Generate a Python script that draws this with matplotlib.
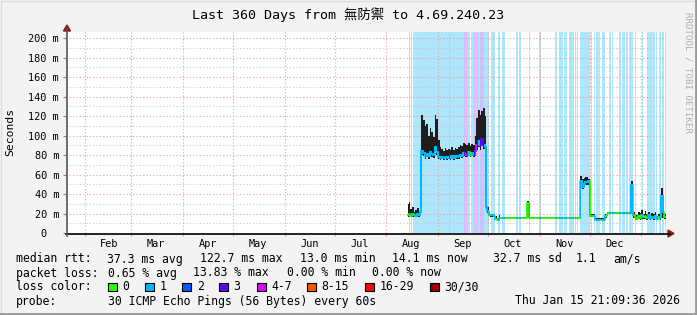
import matplotlib
matplotlib.use("Agg")
import matplotlib.pyplot as plt
import matplotlib.dates as mdates
from matplotlib.patches import Rectangle, Polygon
from datetime import datetime, timedelta

W, H = 697, 315
MONO = "DejaVu Sans Mono"

# time window of the graph
t_start = datetime(2025, 1, 20, 21, 9, 36)
t_end = datetime(2026, 1, 15, 21, 9, 36)
base = datetime(2025, 8, 1)

# step start (days after Aug 1), median rtt and smoke low/high in ms
day = [12.8, 13.5, 14.5, 15.5, 16.5, 17.5, 18.5, 19.5, 20.3,
       21, 22, 23, 24, 25, 26, 27, 28, 29, 30, 31, 32, 33, 34, 35, 36, 37, 38, 39, 40,
       41, 42, 43, 44, 45, 46, 47, 48, 49, 50, 51, 52, 53, 54, 55, 56, 57, 58, 59,
       59.8, 60.5, 61.5, 62.5, 64.5, 65.5, 66.5, 67.5, 68.5, 84.6, 85.8,
       116.4, 117.5, 118.5, 119.5, 121, 122.3, 125.5, 131.5, 132.5, 133.3, 146.6, 148.3,
       149, 150, 151, 152, 153, 154, 155, 156, 157, 158, 159, 160, 161, 162, 163, 164,
       165, 166, 166.8, 167.6]
med = [18, 20, 17, 19, 18, 17, 19, 18, 22,
       84, 82, 79, 81, 79, 83, 81, 80, 88, 83, 78, 77, 78, 77, 78, 77, 78, 77, 79, 77,
       79, 78, 79, 80, 79, 82, 80, 80, 83, 80, 82, 80, 84, 90, 94, 90, 96, 90, 88,
       27, 23, 18.5, 18, 17, 14, 13, 15, 15.5, 31, 15.5,
       53, 47, 50, 52, 53, 17, 13.5, 17, 19, 21, 49, 18,
       16, 14, 17, 15, 18, 16, 17, 15, 18, 15, 16, 15, 17, 14, 16, 15,
       38, 22, 16, 16]
lo = [16, 17, 16, 16, 16, 16, 16, 16, 18,
      80, 79, 76, 78, 76, 80, 78, 77, 84, 80, 76, 75, 76, 75, 76, 75, 76, 75, 76, 75,
      77, 76, 76, 78, 77, 79, 78, 78, 80, 78, 79, 78, 80, 85, 88, 85, 90, 86, 84,
      24, 21, 17, 16, 15, 13, 12, 13, 15, 16, 15,
      48, 45, 47, 49, 49, 16, 13, 15, 17, 20, 45, 15,
      14, 13, 14, 13, 14, 14, 14, 13, 14, 13, 14, 13, 14, 13, 14, 13,
      15, 15, 14, 14]
hi = [30, 32, 25, 27, 22, 24, 26, 22, 37,
      121, 116, 110, 112, 100, 108, 104, 98, 121, 117, 95, 88, 86, 84, 87, 85, 86, 85, 88, 85,
      87, 86, 88, 90, 89, 92, 91, 90, 92, 89, 91, 90, 100, 118, 126, 121, 125, 128, 120,
      30, 27, 21, 20, 19, 17, 15, 18, 16.5, 33, 16.5,
      58, 55, 56, 57, 55, 19, 15, 19, 22, 22, 53, 22,
      20, 18, 22, 21, 24, 20, 23, 19, 22, 18, 21, 19, 22, 17, 20, 18,
      46, 35, 20, 20]

# packet loss bands (days after Aug 1) and their loss class
band_start = [13.8, 15.0, 16.2, 18.0, 20.5, 37.6, 38.2, 46.4, 47.4, 48.8, 50.6, 52.4, 53.4,
              54.4, 55.2, 56.4, 58.4, 62.8, 67.2, 69.4, 70.8, 78.0, 79.8, 85.8, 91.6,
              101.4, 103.4, 106.8, 109.4, 113.0, 114.2, 116.4, 122.6, 124.8, 125.9, 129.5,
              133.4, 135.5, 139.9, 141.3, 144.1, 145.9, 149.3, 153.5, 156.5, 161.9, 163.9,
              165.5, 167.1]
band_end = [14.4, 15.6, 17.6, 20.2, 37.6, 38.2, 46.4, 47.4, 48.8, 50.0, 52.4, 53.4, 54.4,
            55.2, 56.4, 58.4, 61.8, 65.0, 68.4, 70.4, 71.4, 78.8, 81.0, 86.4, 92.6,
            102.6, 105.8, 108.6, 112.4, 113.6, 115.1, 122.3, 123.2, 125.4, 128.4, 131.3,
            134.6, 135.9, 140.7, 143.5, 145.3, 148.3, 149.9, 154.3, 161.3, 162.5, 165.1,
            166.5, 167.7]
band_loss = [1, 1, 1, 1, 1, 3, 1, 3, 4, 1, 1, 3, 4,
             3, 1, 3, 1, 1, 1, 1, 1, 1, 1, 1, 1,
             1, 1, 1, 1, 1, 1, 1, 1, 1, 1, 1,
             1, 1, 1, 1, 1, 1, 1, 1, 1, 1, 1,
             1, 1]

loss_labels = ["0", "1", "2", "3", "4-7", "8-15", "16-29", "30/30"]
loss_colors = ["#26ff00", "#00b8ff", "#0059ff", "#5e00ff", "#dd00ff", "#ff5500", "#ff0000", "#a10000"]
band_colors = {1: "#aee6fb", 3: "#cfc0ff", 4: "#f2b8ff"}

rtt_stats = ["37.3 ms avg", "122.7 ms max", "13.0 ms min", "14.1 ms now", "32.7 ms sd", "1.1", "am/s"]
rtt_x = [107, 199.5, 299.5, 392.5, 493, 576, 613]
loss_stats = ["0.65 % avg", "13.83 % max", "0.00 % min", "0.00 % now"]
loss_x = [107.6, 193.3, 286.7, 372.4]
swatch_x = [108, 145, 182, 219, 257, 307, 365, 430]


fig = plt.figure(figsize=(W / 100, H / 100), dpi=100, facecolor="#f3f3f3")

# overlay in pixel coordinates for the frame and text block
over = fig.add_axes([0, 0, 1, 1], zorder=5)
over.set_xlim(0, W)
over.set_ylim(H, 0)
over.axis("off")
over.patch.set_alpha(0)

left, right, top, bottom = 66, 666, 32, 233
ax = fig.add_axes([left / W, 1 - bottom / H, (right - left) / W, (bottom - top) / H])
ax.set_facecolor("white")
for s in ax.spines.values():
    s.set_visible(False)

x0 = mdates.date2num(base)
xs = [x0 + d for d in day]

# loss bands
for s, e, l in zip(band_start, band_end, band_loss):
    ax.axvspan(x0 + s, x0 + e, color=band_colors[l], lw=0, zorder=1)

# grid
for v in range(10, 210, 20):
    ax.axhline(v, color="#c8c8c8", lw=0.8, ls=(0, (1, 2)), zorder=1.5)
for v in range(20, 210, 20):
    ax.axhline(v, color="#e8a0a0", lw=0.8, ls=(0, (1, 2)), zorder=1.5)
m = datetime(2025, 2, 1)
months = []
while m < t_end:
    months.append(m)
    ax.axvline(mdates.date2num(m), color="#e8a0a0", lw=0.8, ls=(0, (1, 2)), zorder=1.5)
    m = datetime(m.year + (m.month == 12), m.month % 12 + 1, 1)

# smoke
ax.fill_between(xs, lo, hi, step="post", color="#1e1e1e", lw=0, zorder=2)

# median line, green by default and loss coloured inside the bands
ax.step(xs, med, where="post", color=loss_colors[0], lw=1.3, zorder=3)
for s, e, l in zip(band_start, band_end, band_loss):
    ln, = ax.step(xs, med, where="post", color=loss_colors[l], lw=1.5, zorder=3.1)
    ln.set_clip_path(Rectangle((x0 + s, 0), e - s, 1, transform=ax.get_xaxis_transform()))

ax.set_xlim(mdates.date2num(t_start), mdates.date2num(t_end))
ax.set_ylim(0, 206.2)

yt = list(range(0, 201, 20))
ax.set_yticks(yt)
ax.set_yticklabels(["0  "] + ["%d m" % v for v in yt[1:]], fontfamily=MONO, fontsize=7.4)
ax.tick_params(axis="y", length=2.5, width=0.8, color="#888888", pad=2.5)

ax.set_xticks([mdates.date2num(m) for m in months])
ax.set_xticklabels([])
ax.tick_params(axis="x", which="major", length=2.5, width=0.8, color="#e8a0a0")
mid = [mdates.date2num(m + timedelta(days=15)) for m in months if m + timedelta(days=15) < t_end]
ax.set_xticks(mid, minor=True)
ax.set_xticklabels([m.strftime("%b") for m in months[:len(mid)]], minor=True,
                   fontfamily=MONO, fontsize=7.4)
ax.tick_params(axis="x", which="minor", length=0, pad=4.5)

# axes lines with arrows
over.plot([left, 670], [bottom + 0.5, bottom + 0.5], color="black", lw=1.2)
over.plot([left + 1, left + 1], [bottom + 3, 29], color="#555555", lw=1.2)
over.add_patch(Polygon([[668, 230], [674, 233.5], [668, 237]], color="#8b1a1a"))
over.add_patch(Polygon([[63.5, 31], [67, 25], [70.5, 31]], color="#8b1a1a"))

# title and labels
over.text(348, 15, "Last 360 Days from 無防禦 to 4.69.240.23", ha="center", va="center",
          fontsize=9.6, family=[MONO, "Noto Sans CJK TC"])
over.text(10.5, 132, "Seconds", rotation=90, ha="center", va="center", fontsize=8.2, family=MONO)
over.text(688, 72, "RRDTOOL / TOBI OETIKER", rotation=270, ha="center", va="center",
          fontsize=6.6, family=MONO, color="#b0b0b0")

fs = 8.3
over.text(16, 259, "median rtt:", va="center", fontsize=fs, family=MONO)
for x, t in zip(rtt_x, rtt_stats):
    over.text(x, 259, t, va="center", fontsize=fs, family=MONO)
over.text(16, 273, "packet loss:", va="center", fontsize=fs, family=MONO)
for x, t in zip(loss_x, loss_stats):
    over.text(x, 273, t, va="center", fontsize=fs, family=MONO)
over.text(16, 287, "loss color:", va="center", fontsize=fs, family=MONO)
for x, c, t in zip(swatch_x, loss_colors, loss_labels):
    over.add_patch(Rectangle((x, 282.5), 8.5, 8.5, facecolor=c, edgecolor="black", lw=0.8))
    over.text(x + 14.7, 287, t, va="center", fontsize=fs, family=MONO)
over.text(16, 301, "probe:", va="center", fontsize=fs, family=MONO)
over.text(107.6, 301, "30 ICMP Echo Pings (56 Bytes) every 60s", va="center", fontsize=fs, family=MONO)
over.text(680, 301, "Thu Jan 15 21:09:36 2026", ha="right", va="center", fontsize=fs, family=MONO)

# image frame
over.plot([0.5, W - 0.5], [0.5, 0.5], color="#dddddd", lw=1)
over.plot([0.5, 0.5], [0.5, H - 0.5], color="#dddddd", lw=1)
over.plot([W - 1, W - 1], [0, H], color="#9a9a9a", lw=2)
over.plot([0, W], [H - 1, H - 1], color="#9a9a9a", lw=2)

fig.savefig("out.png", dpi=100, facecolor=fig.get_facecolor())
